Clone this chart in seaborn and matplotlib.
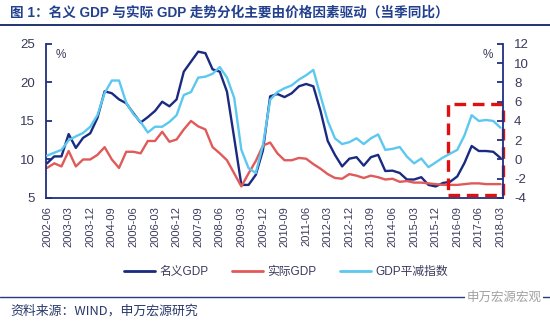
import numpy as np
import pandas as pd
import matplotlib
matplotlib.use("Agg")
import matplotlib.pyplot as plt
import seaborn as sns
from matplotlib.lines import Line2D
from matplotlib.patches import Rectangle

# ---------------- data ----------------
quarters = [str(p.end_time.strftime("%Y-%m")) for p in pd.period_range("2002Q2", "2018Q1", freq="Q")]

nominal_gdp = [9.5, 10.4, 10.4, 13.3, 11.5, 12.8, 13.4, 15.4, 18.85, 18.6, 17.8, 17.3, 16.0, 14.8, 15.5, 16.3,
               17.5, 16.9, 17.8, 21.4, 22.7, 24.0, 23.8, 21.7, 21.4, 18.8, 12.8, 6.7, 6.7, 8.0, 11.2, 18.2,
               18.5, 18.1, 18.6, 19.5, 19.8, 19.5, 16.3, 12.4, 10.6, 9.1, 10.1, 10.3, 9.2, 10.3, 10.6, 8.5,
               8.55, 8.25, 7.4, 7.4, 7.7, 6.7, 6.5, 6.95, 7.1, 7.8, 9.55, 11.75, 11.1, 11.1, 11.0, 10.2]
real_gdp = [8.9, 9.5, 9.1, 11.1, 9.1, 10.0, 10.0, 10.6, 11.6, 10.0, 8.9, 11.0, 11.0, 10.8, 12.4, 12.4,
            13.6, 12.3, 12.6, 13.9, 15.0, 14.3, 13.9, 11.6, 10.8, 9.9, 8.2, 6.5, 8.2, 9.8, 11.8, 12.2,
            10.8, 9.9, 9.9, 10.2, 10.1, 9.4, 8.8, 8.1, 7.6, 7.5, 8.1, 7.9, 7.6, 7.9, 7.7, 7.4,
            7.5, 7.1, 7.2, 7.0, 7.0, 6.9, 6.8, 6.7, 6.7, 6.7, 6.8, 6.9, 6.9, 6.8, 6.8, 6.8]
deflator = [0.4, 0.7, 1.0, 2.0, 2.4, 2.75, 3.4, 4.6, 6.9, 8.2, 8.2, 5.9, 4.7, 3.9, 2.8, 3.4,
            3.4, 3.9, 4.6, 6.7, 7.0, 8.5, 8.6, 8.9, 9.6, 8.5, 6.4, 1.0, -0.9, -1.4, 1.5, 6.2,
            7.0, 7.4, 7.7, 8.3, 8.75, 9.3, 6.6, 4.0, 2.2, 1.6, 1.8, 2.2, 1.6, 2.2, 2.6, 1.0,
            1.1, 1.3, 0.3, -0.4, 0.1, -0.8, -0.3, 0.2, 0.6, 1.0, 2.5, 4.6, 4.0, 4.1, 4.0, 3.3]

series_names = ["名义GDP", "实际GDP", "GDP平减指数"]
left_ticks = [5, 10, 15, 20, 25]
right_ticks = [-4, -2, 0, 2, 4, 6, 8, 10, 12]
tick_step = 3  # label every 3 quarters

# highlight box (2016 onwards), in left-axis units
box_start_quarter = "2016-03"
box_low, box_high = 5.45, 17.2

df = pd.DataFrame({"idx": np.arange(len(quarters)), "quarter": quarters,
                   "nominal": nominal_gdp, "real": real_gdp, "deflator": deflator})

# ---------------- style ----------------
sns.set_style("white")
plt.rcParams["font.family"] = ["Liberation Sans", "Noto Sans CJK SC", "DejaVu Sans"]
plt.rcParams["axes.unicode_minus"] = False

c_nom = "#1A2A80"
c_real = "#E05A5A"
c_def = "#5CC8F0"
c_axis = "#1F2F80"
c_text = "#3A3A5C"

fig = plt.figure(figsize=(5.5, 3.23), dpi=100)
ax = fig.add_axes([0.0836, 0.387, 0.8309, 0.477])
ax2 = ax.twinx()

sns.lineplot(data=df, x="idx", y="nominal", ax=ax, color=c_nom, lw=1.7, label=series_names[0], legend=False)
sns.lineplot(data=df, x="idx", y="real", ax=ax, color=c_real, lw=1.7, label=series_names[1], legend=False)
sns.lineplot(data=df, x="idx", y="deflator", ax=ax2, color=c_def, lw=1.7, label=series_names[2], legend=False)

ax.set_ylim(5, 25)
ax2.set_ylim(-4, 12)
ax.set_xlim(-0.15, 63.35)
ax.set_yticks(left_ticks)
ax2.set_yticks(right_ticks)
ax.set_xticks(df["idx"][::tick_step])
ax.set_xticklabels(df["quarter"][::tick_step], rotation=90)
ax.set_xlabel("")
ax.set_ylabel("")
ax2.set_ylabel("")

for a in (ax, ax2):
    for s in a.spines.values():
        s.set_color(c_axis)
        s.set_linewidth(1.3)
    a.spines["top"].set_visible(False)
ax.spines["right"].set_visible(False)
ax2.spines["left"].set_visible(False)
ax2.spines["bottom"].set_visible(False)

ax.tick_params(axis="y", direction="in", length=4, width=1.3, color=c_axis, labelsize=9.5, labelcolor=c_text, pad=8)
ax2.tick_params(axis="y", direction="in", length=4, width=1.3, color=c_axis, labelsize=9.5, labelcolor=c_text, pad=8)
ax.tick_params(axis="x", direction="out", length=4, width=1.3, color=c_axis, labelsize=8, labelcolor=c_text, pad=2)

ax.text(0.022, 0.97, "%", transform=ax.transAxes, ha="left", va="top", fontsize=8.5, color=c_text)
ax2.text(0.978, 0.97, "%", transform=ax2.transAxes, ha="right", va="top", fontsize=8.5, color=c_text)

# highlight box
bx = quarters.index(box_start_quarter) + 0.7
rect = Rectangle((bx, box_low), ax.get_xlim()[1] - bx, box_high - box_low, fill=False,
                 edgecolor="#E01010", lw=2.4, linestyle=(0, (3.5, 2.0)), zorder=5, clip_on=False)
ax.add_patch(rect)

# legend
handles = [Line2D([], [], color=c_nom, lw=2), Line2D([], [], color=c_real, lw=2), Line2D([], [], color=c_def, lw=2)]
fig.legend(handles, series_names, loc="center", bbox_to_anchor=(0.52, 0.158), ncol=3, frameon=False,
           handlelength=2.6, columnspacing=2.0, handletextpad=0.4,
           prop={"family": ["Liberation Sans", "Noto Sans CJK SC"], "size": 8.5})
for t in fig.legends[0].get_texts():
    t.set_color(c_text)

# title and footer
fig.text(0.018, 0.962, "图 1：名义 GDP 与实际 GDP 走势分化主要由价格因素驱动（当季同比）",
         ha="left", va="center", fontsize=9.8, fontweight="bold", color="#23408E",
         family=["Liberation Sans", "Noto Sans CJK SC"])
fig.add_artist(Line2D([0.0, 1.0], [0.922, 0.922], color="#23336E", lw=1.4))
fig.add_artist(Line2D([0.0, 1.0], [0.08, 0.08], color="#2A3A7A", lw=1.0))
fig.text(0.018, 0.038, "资料来源：WIND，申万宏源研究", ha="left", va="center", fontsize=9.3,
         color="#2A3A6A", family=["Noto Sans CJK SC", "Liberation Sans"])
fig.text(0.985, 0.08, "申万宏源宏观", ha="right", va="center", fontsize=9, color="#A0A0A0",
         family=["Noto Sans CJK SC"], bbox=dict(facecolor="white", edgecolor="none", pad=1))

fig.savefig("out.png", dpi=100, facecolor="white")
